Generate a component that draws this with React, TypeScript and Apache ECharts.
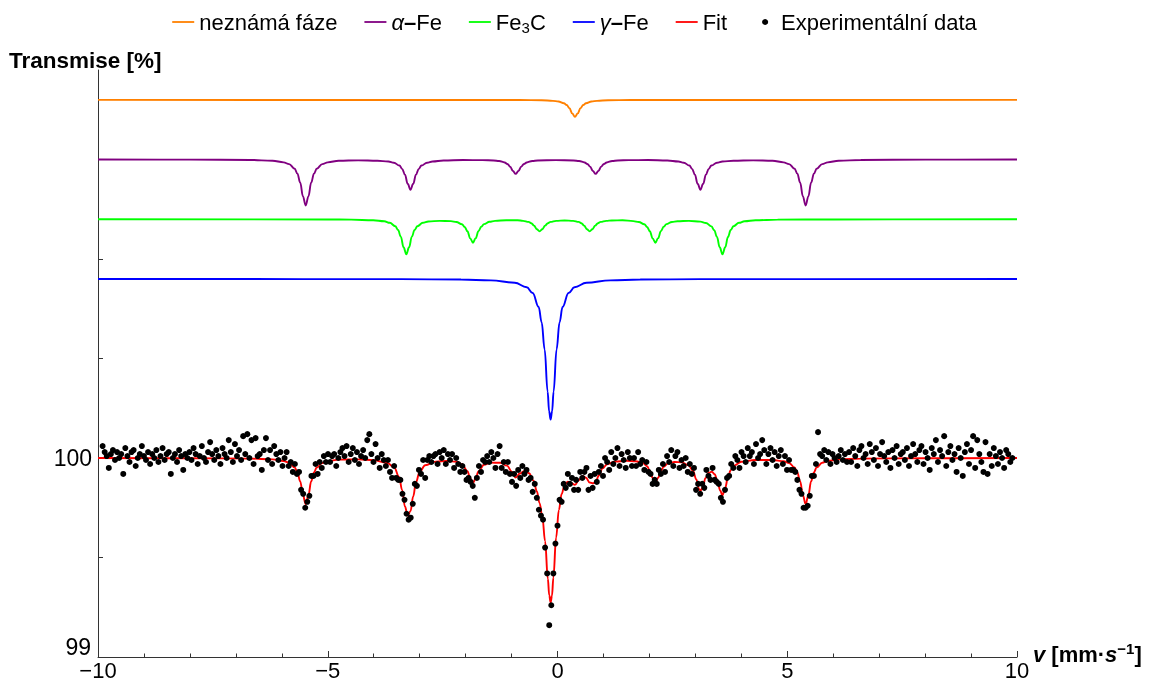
import React, { useEffect, useRef } from 'react';
import * as echarts from 'echarts';

// Experimental channel grid (velocity, mm/s)
const expStart = -9.9;
const expStep = 0.045;
// Experimental transmission (%), one value per channel
const expTransmission = [
  100.06, 100.03, 100.01, 99.95, 100.02, 100.04, 99.99, 100.03, 100.00, 100.02,
  99.92, 100.05, 100.01, 99.98, 100.03, 100.04, 99.96, 100.00, 100.02, 100.06,
  100.01, 99.99, 100.03, 99.97, 100.02, 100.00, 100.04, 99.98, 100.01, 100.05,
  99.99, 100.02, 100.03, 99.92, 100.00, 100.02, 99.98, 100.04, 100.01, 99.94,
  100.02, 100.00, 100.03, 99.99, 100.05, 100.02, 99.97, 100.01, 100.06, 100.00,
  99.98, 100.03, 100.08, 100.02, 99.99, 100.04, 100.01, 99.97, 100.05, 100.02,
  100.00, 100.09, 100.03, 99.98, 100.07, 100.01, 100.04, 99.99, 100.11, 100.02,
  100.12, 100.00, 100.09, 99.97, 100.10, 100.01, 100.02, 99.94, 100.04, 100.10,
  99.99,
  100.04, 99.97, 100.06, 100.02, 99.99, 100.03, 99.96, 100.00, 100.03, 99.96,
  99.98, 99.93, 99.97, 99.92, 99.93, 99.84, 99.82, 99.75, 99.78, 99.81,
  99.91, 99.91, 99.97, 99.92, 99.98, 99.95, 100.01, 99.98, 100.02, 99.98,
  100.01, 100.02, 99.96, 100.00, 100.03,
  100.05, 100.01, 100.06, 99.98, 100.02, 100.05, 99.99, 100.03, 99.97, 100.01,
  100.04, 100.00, 100.09, 100.12, 100.02, 99.98, 100.07, 100.00, 99.95, 100.02,
  99.99, 99.96, 99.99, 99.93, 99.90, 99.96, 99.90, 99.89, 99.89, 99.82,
  99.79, 99.72, 99.69, 99.70, 99.77, 99.87, 99.86, 99.94, 99.92, 99.99,
  99.90, 99.99, 100.01, 99.98, 100.01,
  100.02, 99.97, 100.03, 100.00, 100.04, 99.97, 100.02, 99.99, 100.02, 99.95,
  100.00, 99.97, 99.93, 99.96, 99.93, 99.89, 99.90, 99.88, 99.86, 99.80,
  99.90, 99.96, 99.93, 99.99, 99.98, 100.01, 99.98, 100.03, 100.00, 99.95,
  100.02, 100.06, 99.95, 99.98, 99.93, 99.98, 99.92, 99.88, 99.92, 99.86,
  99.94, 99.90, 99.96, 99.92, 99.94, 99.89, 99.90, 99.83, 99.87, 99.80,
  99.74, 99.71, 99.69, 99.55, 99.42, 99.16, 99.26, 99.42, 99.57, 99.66,
  99.79, 99.78, 99.87, 99.85, 99.92, 99.87, 99.90, 99.84, 99.89, 99.84,
  99.93, 99.90, 99.93, 99.95, 99.84, 99.91, 99.85, 99.92, 99.88, 99.93,
  99.96, 99.91, 100.00, 99.98, 99.94, 100.03, 99.97, 100.00, 100.05, 99.96,
  100.02, 99.99, 99.95, 100.03, 100.00, 99.96, 100.00, 99.96, 100.03, 99.97,
  99.99, 99.94, 99.98, 99.93, 99.92, 99.87, 99.89, 99.87, 99.94, 99.92,
  99.97, 99.93, 100.01, 99.98, 100.04, 99.96, 100.01, 100.03, 99.95, 99.99,
  99.96, 100.00, 99.93, 99.97, 99.92, 99.95, 99.84, 99.87, 99.82, 99.87,
  99.85, 99.94, 99.91, 99.89, 99.95, 99.89, 99.88, 99.87, 99.80, 99.78,
  99.84, 99.90, 99.91, 99.97, 99.95, 100.01, 99.99, 99.95, 100.03, 100.01,
  99.98, 100.05, 100.01, 100.03, 99.97, 100.07, 100.00, 100.02, 100.09, 100.04,
  99.97, 100.02, 100.05, 99.99, 100.03, 99.96, 100.01, 100.04, 99.97, 100.01,
  99.94, 99.99, 99.94, 99.94, 99.93, 99.89, 99.84, 99.82, 99.75, 99.75,
  99.76, 99.81, 99.91, 99.91, 99.97, 100.13, 100.02, 100.01, 100.04, 99.99,
  100.03, 99.97, 100.02, 100.00, 99.98, 100.01, 100.04, 99.99, 100.02, 99.98,
  100.03, 99.98, 100.05, 100.01, 99.96, 100.04, 100.06, 100.00, 100.02, 99.97,
  100.07, 100.03, 99.99, 100.05, 99.96, 100.02, 100.08, 100.01, 99.98, 100.03,
  99.95, 100.04, 100.00, 100.06, 99.97, 100.02, 100.03, 99.99, 100.05, 99.96,
  100.01, 100.07, 100.02, 99.98, 100.04, 100.06, 99.97, 100.03, 100.00, 99.94,
  100.05, 100.02, 100.09, 99.98, 100.04, 100.01, 100.11, 99.96, 100.03, 100.06,
  99.99, 100.02, 99.93, 100.05, 100.00, 99.91, 100.03, 100.07, 99.97, 100.04,
  100.11, 99.95, 100.09, 100.02, 99.98, 99.93, 100.08, 99.92, 100.02, 99.96,
  100.05, 100.01, 99.97, 100.03, 100.00, 99.95, 100.04, 100.02, 99.98, 100.00,
];

// Component curves [velocity, transmission] (offset for display)
const unknownPhase: [number, number][] = [
  [-10, 101.8], [-0.82, 101.799], [-0.34, 101.798], [-0.1, 101.795], [0.02, 101.7915],
  [0.14, 101.783], [0.2, 101.774], [0.26, 101.7575], [0.32, 101.732], [0.38, 101.715],
  [0.44, 101.732], [0.5, 101.7575], [0.56, 101.774], [0.62, 101.783], [0.74, 101.7915],
  [0.86, 101.795], [1.1, 101.798], [1.58, 101.799], [10, 101.8],
];

const alphaFe: [number, number][] = [
  [-10, 101.5], [-8, 101.4995], [-6.68, 101.498], [-6.2, 101.494], [-5.96, 101.486], [-5.84, 101.477],
  [-5.72, 101.454], [-5.66, 101.429], [-5.6, 101.3845], [-5.54, 101.315], [-5.48, 101.269],
  [-5.42, 101.315], [-5.36, 101.3845], [-5.3, 101.429], [-5.24, 101.454], [-5.12, 101.477],
  [-5.0, 101.486], [-4.76, 101.494], [-4.34, 101.496],
  [-3.92, 101.494], [-3.68, 101.49], [-3.56, 101.484], [-3.44, 101.47], [-3.38, 101.453],
  [-3.32, 101.424], [-3.26, 101.378], [-3.2, 101.348], [-3.14, 101.378], [-3.08, 101.424],
  [-3.02, 101.453], [-2.96, 101.47], [-2.84, 101.484], [-2.72, 101.49], [-2.48, 101.495], [-2.055, 101.4975],
  [-1.63, 101.497], [-1.39, 101.4955], [-1.27, 101.4925], [-1.15, 101.4855], [-1.09, 101.4775],
  [-1.03, 101.464], [-0.97, 101.4424], [-0.91, 101.428], [-0.85, 101.4424], [-0.79, 101.464],
  [-0.73, 101.4775], [-0.67, 101.4855], [-0.55, 101.4925], [-0.43, 101.4955], [-0.04, 101.497],
  [0.35, 101.4955], [0.47, 101.4925], [0.59, 101.4855], [0.65, 101.4775], [0.71, 101.464],
  [0.77, 101.4424], [0.83, 101.428], [0.89, 101.4424], [0.95, 101.464], [1.01, 101.4775],
  [1.07, 101.4855], [1.19, 101.4925], [1.31, 101.4955], [1.55, 101.497], [1.97, 101.4975],
  [2.39, 101.495], [2.63, 101.49], [2.75, 101.484], [2.87, 101.47], [2.93, 101.453],
  [2.99, 101.424], [3.05, 101.378], [3.11, 101.348], [3.17, 101.378], [3.23, 101.424],
  [3.29, 101.453], [3.35, 101.47], [3.47, 101.484], [3.59, 101.49], [3.83, 101.494], [4.255, 101.496],
  [4.68, 101.494], [4.92, 101.486], [5.04, 101.477], [5.16, 101.454], [5.22, 101.429],
  [5.28, 101.3845], [5.34, 101.315], [5.4, 101.269], [5.46, 101.315], [5.52, 101.3845],
  [5.58, 101.429], [5.64, 101.454], [5.76, 101.477], [5.88, 101.486], [6.12, 101.494],
  [6.6, 101.498], [8, 101.4995], [10, 101.5],
];

const fe3c: [number, number][] = [
  [-10, 101.2], [-5, 101.199], [-4.49, 101.198], [-4.01, 101.195], [-3.77, 101.19], [-3.65, 101.182],
  [-3.53, 101.165], [-3.47, 101.146], [-3.41, 101.112], [-3.35, 101.059], [-3.29, 101.024],
  [-3.23, 101.059], [-3.17, 101.112], [-3.11, 101.146], [-3.05, 101.165], [-2.93, 101.182],
  [-2.81, 101.189], [-2.565, 101.192],
  [-2.32, 101.1905], [-2.2, 101.186], [-2.08, 101.175], [-2.02, 101.161], [-1.96, 101.1395],
  [-1.9, 101.104], [-1.84, 101.082], [-1.78, 101.105], [-1.72, 101.14], [-1.66, 101.162],
  [-1.6, 101.1755], [-1.48, 101.187], [-1.36, 101.192], [-1.115, 101.195],
  [-0.87, 101.195], [-0.75, 101.192], [-0.63, 101.1865], [-0.57, 101.18], [-0.51, 101.168],
  [-0.45, 101.15], [-0.39, 101.139], [-0.33, 101.15], [-0.27, 101.168], [-0.21, 101.18],
  [-0.15, 101.1865], [-0.03, 101.192], [0.155, 101.194],
  [0.34, 101.192], [0.46, 101.1865], [0.52, 101.18], [0.58, 101.168], [0.64, 101.15],
  [0.7, 101.139], [0.76, 101.15], [0.82, 101.168], [0.88, 101.18], [0.94, 101.1865],
  [1.06, 101.192], [1.18, 101.194], [1.415, 101.195],
  [1.65, 101.1905], [1.77, 101.186], [1.89, 101.175], [1.95, 101.161], [2.01, 101.1395],
  [2.07, 101.104], [2.13, 101.082], [2.19, 101.105], [2.25, 101.14], [2.31, 101.162],
  [2.37, 101.1755], [2.49, 101.186], [2.61, 101.19], [2.86, 101.192],
  [3.11, 101.188], [3.23, 101.181], [3.35, 101.164], [3.41, 101.145], [3.47, 101.111],
  [3.53, 101.059], [3.59, 101.024], [3.65, 101.059], [3.71, 101.111], [3.77, 101.146],
  [3.83, 101.165], [3.95, 101.182], [4.07, 101.19], [4.31, 101.195], [4.79, 101.198],
  [6, 101.199], [10, 101.2],
];

const gammaFe: [number, number][] = [
  [-10, 100.9], [-3.4, 100.899], [-2.1, 100.897], [-1.45, 100.893], [-0.93, 100.881],
  [-0.67, 100.858], [-0.54, 100.829], [-0.41, 100.759], [-0.345, 100.682], [-0.28, 100.546],
  [-0.215, 100.334], [-0.1825, 100.235], [-0.15, 100.193], [-0.1175, 100.235], [-0.085, 100.334],
  [-0.02, 100.546], [0.045, 100.682], [0.11, 100.759], [0.24, 100.829], [0.37, 100.858],
  [0.63, 100.881], [1.15, 100.893], [1.8, 100.897], [3.1, 100.899], [10, 100.9],
];

const fitCurve: [number, number][] = [
  [-10, 100.0], [-8, 99.999], [-6.68, 99.997], [-6.2, 99.993], [-5.96, 99.985], [-5.84, 99.976],
  [-5.72, 99.953], [-5.66, 99.928], [-5.6, 99.883], [-5.54, 99.814], [-5.48, 99.768],
  [-5.42, 99.814], [-5.36, 99.883], [-5.3, 99.928], [-5.24, 99.952], [-5.12, 99.975],
  [-5.0, 99.984], [-4.76, 99.992], [-4.34, 99.993],
  [-4.0, 99.989], [-3.7, 99.975], [-3.55, 99.951], [-3.45, 99.906], [-3.38, 99.838],
  [-3.32, 99.756], [-3.26, 99.71], [-3.2, 99.733], [-3.14, 99.807], [-3.08, 99.878],
  [-3.0, 99.931], [-2.88, 99.964], [-2.65, 99.982], [-2.4, 99.985], [-2.2, 99.981],
  [-2.08, 99.969], [-1.96, 99.934], [-1.9, 99.898], [-1.84, 99.875], [-1.78, 99.898],
  [-1.72, 99.933], [-1.6, 99.966], [-1.45, 99.977], [-1.25, 99.976], [-1.1, 99.962],
  [-1.0, 99.933], [-0.91, 99.902], [-0.82, 99.922], [-0.72, 99.935], [-0.62, 99.9235],
  [-0.52, 99.886], [-0.45, 99.833], [-0.39, 99.773], [-0.33, 99.704], [-0.27, 99.582],
  [-0.21, 99.393], [-0.18, 99.31], [-0.15, 99.274], [-0.12, 99.308], [-0.09, 99.399],
  [-0.03, 99.601], [0.03, 99.7395], [0.09, 99.819], [0.15, 99.861], [0.22, 99.881],
  [0.3, 99.874], [0.38, 99.865], [0.46, 99.8885], [0.54, 99.91], [0.62, 99.901],
  [0.7, 99.877], [0.77, 99.873], [0.83, 99.8795], [0.9, 99.912], [0.98, 99.948],
  [1.08, 99.969], [1.25, 99.982], [1.5, 99.986], [1.7, 99.984], [1.85, 99.976],
  [1.95, 99.9585], [2.01, 99.936], [2.07, 99.901], [2.13, 99.8775], [2.19, 99.9007],
  [2.25, 99.9355], [2.31, 99.956], [2.4, 99.972], [2.55, 99.98], [2.7, 99.979],
  [2.85, 99.964], [2.95, 99.936], [3.02, 99.892], [3.08, 99.845], [3.11, 99.835],
  [3.16, 99.854], [3.22, 99.898], [3.29, 99.926], [3.36, 99.931], [3.42, 99.9185],
  [3.48, 99.887], [3.54, 99.8365], [3.59, 99.813], [3.65, 99.85], [3.71, 99.904],
  [3.77, 99.939], [3.85, 99.963], [4.0, 99.981], [4.3, 99.99], [4.68, 99.99],
  [4.92, 99.984], [5.04, 99.975], [5.16, 99.952], [5.22, 99.927], [5.28, 99.883],
  [5.34, 99.8135], [5.4, 99.7675], [5.46, 99.8135], [5.52, 99.8835], [5.58, 99.928],
  [5.64, 99.953], [5.76, 99.976], [5.88, 99.985], [6.12, 99.993], [6.6, 99.997],
  [8, 99.999], [10, 100.0],
];

const seriesNames = ['neznámá fáze', 'α–Fe', 'Fe₃C', 'γ–Fe', 'Fit', 'Experimentální data'];
const seriesColors = ['#FF8000', '#800080', '#00FF00', '#0000FF', '#FF0000', '#000000'];
const xRange = [-10, 10];
const yRange = [99, 101.95];
const yTickValues = [99, 99.5, 100, 100.5, 101, 101.5];
const yLabelMain = [100];
const yLabelCorner = [99];
const yAxisTitle = 'Transmise [%]';

const FONT = "'Liberation Sans', Arial, Helvetica, sans-serif";
const LINE_ICON = 'path://M0,0M22,0M22,14M0,14M0,6.1L22,6.1L22,7.9L0,7.9Z';
const DOT_ICON = 'path://M0,0M22,0M22,14M0,14M11,4A3,3,0,1,1,10.99,4Z';

export default function App() {
  const ref = useRef<HTMLDivElement>(null);

  useEffect(() => {
    if (!ref.current) return;
    const chart = echarts.init(ref.current, null, { renderer: 'svg' });
    const expData = expTransmission.map((v, i) => [expStart + i * expStep, v]);
    const curves = [unknownPhase, alphaFe, fe3c, gammaFe, fitCurve];

    const legendLabel: Record<string, string> = {
      'α–Fe': '{i|α}{d|–}{n|Fe}',
      'Fe₃C': '{n|Fe}{sub|3}{n|C}',
      'γ–Fe': '{i|γ}{d|–}{n|Fe}',
    };

    const lineSeries = curves.map((data, k) => ({
      type: 'line',
      name: seriesNames[k],
      data,
      smooth: 0.4,
      smoothMonotone: 'x',
      symbol: 'none',
      silent: true,
      z: 2,
      lineStyle: { color: seriesColors[k], width: 1.9 },
      itemStyle: { color: seriesColors[k] },
    }));

    const yBase = {
      type: 'value',
      min: yRange[0],
      max: yRange[1],
      interval: 0.5,
      splitLine: { show: false },
    };

    chart.setOption({
      animation: false,
      textStyle: { fontFamily: FONT },
      grid: { left: 98, right: 132, top: 70, bottom: 26, containLabel: false, outerBoundsMode: 'none' },
      legend: {
        top: 6,
        left: 'center',
        itemWidth: 22,
        itemHeight: 14,
        itemGap: 27,
        selectedMode: false,
        textStyle: {
          fontSize: 22,
          color: '#000',
          fontFamily: FONT,
          rich: {
            n: { fontSize: 22, fontFamily: FONT, color: '#000', lineHeight: 26 },
            d: { fontSize: 22, fontFamily: FONT, fontWeight: 'bold', color: '#000', lineHeight: 26 },
            i: { fontSize: 22, fontFamily: FONT, color: '#000', fontStyle: 'italic', lineHeight: 26 },
            sub: { fontSize: 15, fontFamily: FONT, color: '#000', verticalAlign: 'bottom', lineHeight: 15 },
          },
        },
        formatter: (name: string) => legendLabel[name] ?? name,
        data: seriesNames.map((n, k) => ({
          name: n,
          icon: k === 5 ? DOT_ICON : LINE_ICON,
          itemStyle: { color: seriesColors[k] },
        })),
      },
      xAxis: {
        type: 'value',
        min: xRange[0],
        max: xRange[1],
        interval: 5,
        axisLine: { onZero: false, lineStyle: { color: '#333', width: 1 } },
        axisTick: { show: true, inside: true, length: 6, lineStyle: { color: '#333' } },
        minorTick: { show: true, splitNumber: 5, length: 3.5, lineStyle: { color: '#333' } },
        splitLine: { show: false },
        minorSplitLine: { show: false },
        axisLabel: {
          color: '#000',
          fontSize: 22,
          fontFamily: FONT,
          margin: 3,
          lineHeight: 20,
          formatter: (v: number) => (v < 0 ? '\u2212' + Math.abs(v) : String(v)),
        },
      },
      yAxis: [
        {
          ...yBase,
          axisLine: { show: true, onZero: false, lineStyle: { color: '#333', width: 1 } },
          axisTick: { show: true, inside: true, length: 5, lineStyle: { color: '#333' }, customValues: yTickValues },
          axisLabel: {
            color: '#000',
            fontSize: 23,
            fontFamily: FONT,
            margin: 6,
            customValues: yLabelMain,
            formatter: (v: number) => String(Math.round(v)),
          },
        },
        {
          ...yBase,
          position: 'left',
          offset: 0,
          axisLine: { show: false },
          axisTick: { show: false },
          axisLabel: {
            color: '#000',
            fontSize: 23,
            fontFamily: FONT,
            margin: 7,
            lineHeight: 20,
            verticalAlign: 'bottom',
            customValues: yLabelCorner,
            formatter: (v: number) => String(Math.round(v)),
          },
        },
      ],
      graphic: [
        {
          type: 'text',
          x: 9,
          y: 60,
          style: {
            text: yAxisTitle,
            font: `bold 22.5px ${FONT}`,
            fill: '#000',
            verticalAlign: 'middle',
          },
        },
        {
          type: 'text',
          x: 1033,
          y: 654,
          style: {
            text: '{bi|v}{b| [mm·}{bi|s}{sup|\u22121}{b|]}',
            verticalAlign: 'middle',
            fill: '#000',
            font: `bold 22px ${FONT}`,
            rich: {
              b: { fontSize: 22, fontWeight: 'bold', fontFamily: FONT, lineHeight: 27, fill: '#000' },
              bi: { fontSize: 22, fontWeight: 'bold', fontStyle: 'italic', fontFamily: FONT, lineHeight: 27, fill: '#000' },
              sup: { fontSize: 15, fontWeight: 'bold', fontFamily: FONT, verticalAlign: 'top', lineHeight: 15, fill: '#000' },
            },
          },
        },
      ],
      series: [
        ...lineSeries,
        {
          type: 'scatter',
          name: seriesNames[5],
          data: expData,
          symbol: 'circle',
          symbolSize: 6,
          silent: true,
          z: 3,
          itemStyle: { color: '#000', opacity: 1 },
        },
      ],
    });

    return () => chart.dispose();
  }, []);

  return <div ref={ref} style={{ position: 'fixed', left: 0, top: 0, width: 1149, height: 683 }} />;
}
